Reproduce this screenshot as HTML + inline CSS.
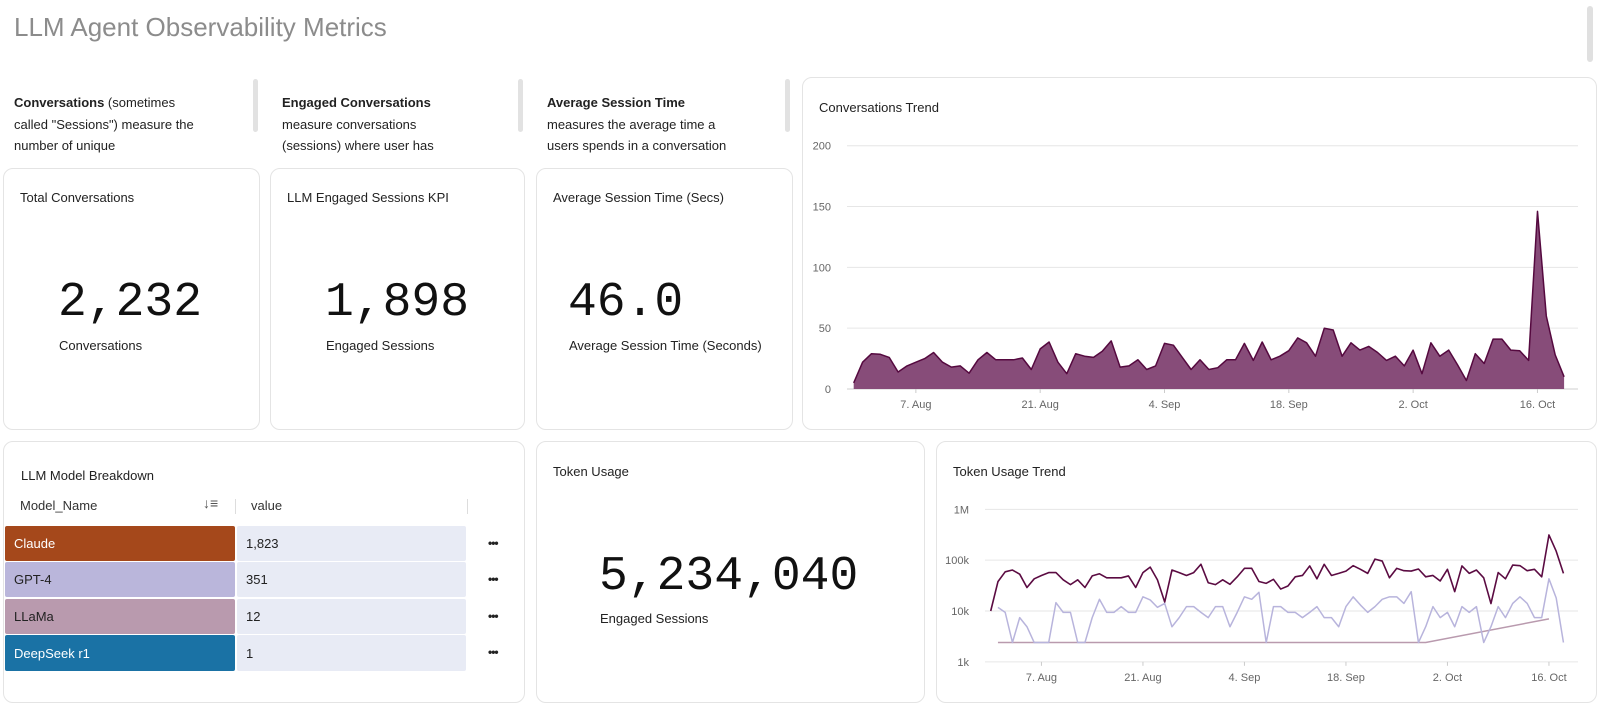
<!DOCTYPE html>
<html><head><meta charset="utf-8"><style>
body{margin:0;width:1600px;height:709px;background:#fff;position:relative;overflow:hidden;font-family:"Liberation Sans",sans-serif;color:#222}
.a{position:absolute}
.card{position:absolute;border:1px solid #e4e4e4;border-radius:10px;background:#fff;box-sizing:border-box}
.t{position:absolute;font-size:13px;color:#222;white-space:nowrap}
.desc{position:absolute;font-size:13px;line-height:21.5px;height:66px;overflow:hidden;color:#222}
.bar{position:absolute;width:5px;height:53px;top:79px;background:#e2e2e2;border-radius:3px}
.big{position:absolute;font-family:"Liberation Mono",monospace;font-size:48px;color:#111;white-space:nowrap;line-height:1}
.cell{position:absolute;font-size:13px;box-sizing:border-box;padding-left:9px;display:flex;align-items:center;border-radius:2px}
.dots{position:absolute;font-size:12px;font-weight:bold;letter-spacing:-1px;color:#222}
</style></head><body>
<div class="t" style="left:14px;top:12px;font-size:26px;color:#8c8c8c">LLM Agent Observability Metrics</div>
<div class="a" style="left:1587px;top:6px;width:6px;height:56px;background:#e0e0e0;border-radius:3px"></div>

<div class="desc" style="left:14px;top:92px;width:180px"><b>Conversations</b> (sometimes called "Sessions") measure the number of unique conversations</div>
<div class="bar" style="left:253px"></div>
<div class="desc" style="left:282px;top:92px;width:175px"><b>Engaged Conversations</b><br>measure conversations (sessions) where user has engaged</div>
<div class="bar" style="left:518px"></div>
<div class="desc" style="left:547px;top:92px;width:185px"><b>Average Session Time</b><br>measures the average time a users spends in a conversation</div>
<div class="bar" style="left:785px"></div>

<div class="card" style="left:3px;top:168px;width:257px;height:262px"></div>
<div class="t" style="left:20px;top:190px">Total Conversations</div>
<div class="big" style="left:58px;top:279px">2,232</div>
<div class="t" style="left:59px;top:338px">Conversations</div>

<div class="card" style="left:270px;top:168px;width:255px;height:262px"></div>
<div class="t" style="left:287px;top:190px">LLM Engaged Sessions KPI</div>
<div class="big" style="left:325px;top:279px">1,898</div>
<div class="t" style="left:326px;top:338px">Engaged Sessions</div>

<div class="card" style="left:536px;top:168px;width:257px;height:262px"></div>
<div class="t" style="left:553px;top:190px">Average Session Time (Secs)</div>
<div class="big" style="left:568px;top:279px">46.0</div>
<div class="t" style="left:569px;top:338px">Average Session Time (Seconds)</div>

<div class="card" style="left:802px;top:77px;width:795px;height:353px"></div>
<div class="t" style="left:819px;top:100px">Conversations Trend</div>

<div class="card" style="left:3px;top:441px;width:522px;height:262px"></div>
<div class="t" style="left:21px;top:468px">LLM Model Breakdown</div>
<div class="t" style="left:20px;top:498px;color:#333">Model_Name</div>
<div class="t" style="left:203px;top:495px;font-size:14px;color:#555">↓&#8801;</div>
<div class="a" style="left:235px;top:499px;width:1px;height:15px;background:#ddd"></div>
<div class="t" style="left:251px;top:498px;color:#333">value</div>
<div class="a" style="left:467px;top:499px;width:1px;height:15px;background:#ddd"></div>

<div class="cell" style="left:5px;top:526px;width:230px;height:35px;background:#a5481b;color:#fff">Claude</div>
<div class="cell" style="left:237px;top:526px;width:229px;height:35px;background:#e8ebf5">1,823</div>
<div class="dots" style="left:488px;top:536px">•••</div>
<div class="cell" style="left:5px;top:562px;width:230px;height:35px;background:#bab6db">GPT-4</div>
<div class="cell" style="left:237px;top:562px;width:229px;height:35px;background:#e8ebf5">351</div>
<div class="dots" style="left:488px;top:572px">•••</div>
<div class="cell" style="left:5px;top:599px;width:230px;height:35px;background:#b99aae">LLaMa</div>
<div class="cell" style="left:237px;top:599px;width:229px;height:35px;background:#e8ebf5">12</div>
<div class="dots" style="left:488px;top:609px">•••</div>
<div class="cell" style="left:5px;top:635px;width:230px;height:36px;background:#1a72a5;color:#fff">DeepSeek r1</div>
<div class="cell" style="left:237px;top:635px;width:229px;height:36px;background:#e8ebf5">1</div>
<div class="dots" style="left:488px;top:645px">•••</div>

<div class="card" style="left:536px;top:441px;width:389px;height:262px"></div>
<div class="t" style="left:553px;top:464px">Token Usage</div>
<div class="big" style="left:599px;top:553px">5,234,040</div>
<div class="t" style="left:600px;top:611px">Engaged Sessions</div>

<div class="card" style="left:936px;top:441px;width:661px;height:262px"></div>
<div class="t" style="left:953px;top:464px">Token Usage Trend</div>

<svg id="charts" class="a" style="left:0;top:0" width="1600" height="709" xmlns="http://www.w3.org/2000/svg"></svg>
<script>
// Conversations per day, starting 31 Jul
const convValues=[5,22,29,28.5,26,14,19,22,25,30,22,18,19,13,24,30,24,24,24,25.5,16,33,38.6,22,12.6,29,27,26,31,39.5,18,19,24,16,19,37.5,36,26,16,24,16,17.5,24,24,37.5,23.5,38.6,24,27,31.5,42,38,27,50,48.5,27,38,32,35,30,23.5,27,19,32,12.6,38,27,32,20,7,29,21,41,41,32,31.5,23.5,146,60,28,10];
const convYTicks=[0,50,100,150,200];
const dateTickLabels=['7. Aug','21. Aug','4. Sep','18. Sep','2. Oct','16. Oct'];
const dateTickDays=[7,21,35,49,63,77];
// Token usage per day (log scale)
const tokTotal=[10000,37800,59000,64000,53000,29000,43000,50000,57000,57000,41000,33000,41000,29000,49000,54000,45000,45000,45000,49000,29000,57000,73000,41000,15000,64000,57000,50000,57000,83000,36000,33000,41000,33500,47000,69000,69000,38000,35000,42000,27000,31000,47000,50000,77000,43000,83000,50000,55000,61000,78000,66000,55000,105000,96000,45000,69000,62000,61000,67000,47000,50000,39000,66000,24000,77000,55000,64000,45000,14000,57000,43000,80000,78000,62000,66000,47000,313000,150000,55000];
const tokGptDays=[1,2,3,4,5,6,7,8,9,10,11,12,13,14,15,16,17,18,19,20,21,22,23,24,25,26,27,28,29,30,31,32,33,34,35,36,37,38,39,40,41,42,43,44,45,46,47,48,49,50,51,52,53,54,55,56,57,58,59,60,61,62,63,64,65,66,67,68,69,70,71,72,73,74,75,76,77,78,79];
const tokGpt=[11800,9400,2400,7400,4900,2400,2400,2400,14600,9400,9400,2400,2400,7400,17000,9400,9400,12200,9400,9400,19000,16500,11800,14100,4900,7400,12200,12200,9400,7400,12200,12200,4900,9400,19000,17000,23300,2400,12200,12200,9400,9400,7400,9400,12200,7400,7400,4900,12200,19000,13100,9400,12200,17000,19000,19000,14100,24000,2400,4900,12200,7400,9400,4900,12200,9400,12200,2400,4900,12200,7400,14100,19000,14100,7400,7400,43000,18000,2400];
const tokLlamaDays=[1,60,77];
const tokLlama=[2400,2400,7000];
const tokYTicks=[1000,10000,100000,1000000];
const tokYLabels=['1k','10k','100k','1M'];

const svg=document.getElementById('charts');
const NS='http://www.w3.org/2000/svg';
function mk(tag,attrs,parent){const e=document.createElementNS(NS,tag);for(const k in attrs)e.setAttribute(k,attrs[k]);(parent||svg).appendChild(e);return e;}
const cx=i=>853.7+8.88*i, cy=v=>389-v*243.3/200;
const tx=i=>990.7+7.25*i, ty=v=>611-(Math.log10(v)-4)*50.83;

convYTicks.forEach(v=>{
  const g=mk('line',{x1:847,x2:1578,y1:cy(v),y2:cy(v),stroke:v===0?'#cfcfcf':'#e6e6e6','stroke-width':1});
  
  
  const t=mk('text',{x:831,y:cy(v)+4,'text-anchor':'end','font-size':11,fill:'#666','font-family':'Liberation Sans, sans-serif'});
  t.textContent=v;
  
  
});
dateTickDays.forEach((d,k)=>{
  const t=mk('text',{x:cx(d),y:408,'text-anchor':'middle','font-size':11,fill:'#666','font-family':'Liberation Sans, sans-serif'});
  t.textContent=dateTickLabels[k];
  
  
  const tk=mk('line',{x1:cx(d),x2:cx(d),y1:389,y2:393,stroke:'#ccc'});
  
  
});
let pts=convValues.map((v,i)=>cx(i).toFixed(1)+','+cy(v).toFixed(1));
const area=mk('polygon',{points:cx(0)+','+cy(0)+' '+pts.join(' ')+' '+cx(convValues.length-1)+','+cy(0),fill:'#874c79'});


const cl=mk('polyline',{points:pts.join(' '),fill:'none',stroke:'#55093f','stroke-width':1.5,'stroke-linejoin':'round'});



tokYTicks.forEach((v,k)=>{
  const g=mk('line',{x1:985,x2:1578,y1:ty(v),y2:ty(v),stroke:'#e6e6e6','stroke-width':1});
  
  
  const t=mk('text',{x:969,y:ty(v)+4,'text-anchor':'end','font-size':11,fill:'#666','font-family':'Liberation Sans, sans-serif'});
  t.textContent=tokYLabels[k];
  
  
});
dateTickDays.forEach((d,k)=>{
  const t=mk('text',{x:tx(d),y:681,'text-anchor':'middle','font-size':11,fill:'#666','font-family':'Liberation Sans, sans-serif'});
  t.textContent=dateTickLabels[k];
  
  
  const tk=mk('line',{x1:tx(d),x2:tx(d),y1:ty(1000),y2:ty(1000)+4,stroke:'#ccc'});
  
  
});
const llama=mk('polyline',{points:tokLlama.map((v,k)=>tx(tokLlamaDays[k])+','+ty(v)).join(' '),fill:'none',stroke:'#b99aae','stroke-width':1.5});


const gpt=mk('polyline',{points:tokGpt.map((v,k)=>tx(tokGptDays[k])+','+ty(v)).join(' '),fill:'none',stroke:'#b8b4dc','stroke-width':1.5,'stroke-linejoin':'round'});


const tot=mk('polyline',{points:tokTotal.map((v,i)=>tx(i)+','+ty(v)).join(' '),fill:'none',stroke:'#5b0b42','stroke-width':1.6,'stroke-linejoin':'round'});


</script>
</body></html>
